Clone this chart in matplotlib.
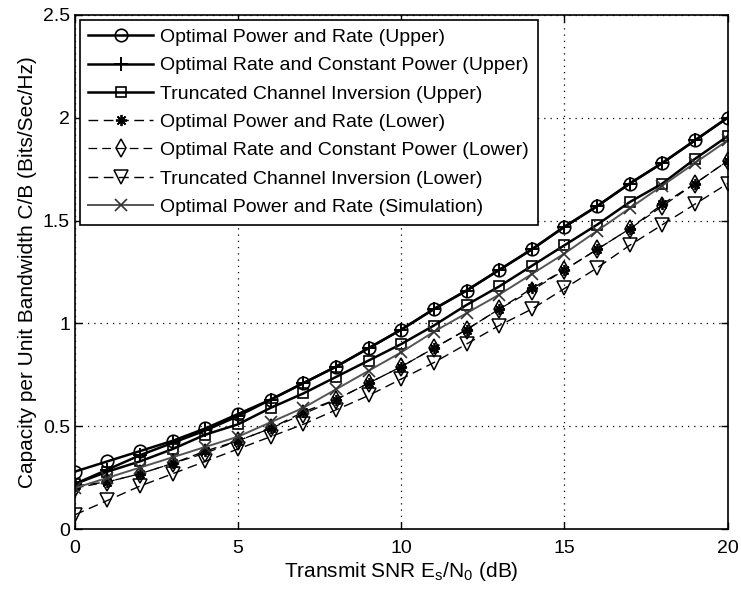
import numpy as np
import matplotlib
matplotlib.use("Agg")
from matplotlib import pyplot as plt

plt.rcParams['font.family'] = ['Liberation Sans', 'DejaVu Sans']

snr_db = list(range(0, 21))

opt_power_rate_upper = [0.28, 0.33, 0.38, 0.43, 0.49, 0.56, 0.63, 0.71, 0.79, 0.88, 0.97,
                        1.07, 1.16, 1.26, 1.36, 1.47, 1.57, 1.68, 1.78, 1.89, 2.00]
opt_rate_const_upper = [0.22, 0.29, 0.36, 0.42, 0.48, 0.55, 0.63, 0.71, 0.79, 0.88, 0.97,
                        1.07, 1.16, 1.26, 1.36, 1.47, 1.57, 1.68, 1.78, 1.89, 2.00]
trunc_inv_upper = [0.22, 0.28, 0.33, 0.39, 0.46, 0.51, 0.59, 0.66, 0.74, 0.82, 0.90,
                   0.99, 1.09, 1.18, 1.28, 1.38, 1.48, 1.59, 1.68, 1.80, 1.91]
opt_power_rate_lower = [0.21, 0.23, 0.27, 0.32, 0.38, 0.43, 0.49, 0.57, 0.63, 0.71, 0.79,
                        0.88, 0.97, 1.07, 1.17, 1.26, 1.36, 1.46, 1.58, 1.68, 1.79]
opt_rate_const_lower = [0.20, 0.23, 0.27, 0.32, 0.37, 0.43, 0.49, 0.56, 0.63, 0.71, 0.79,
                        0.88, 0.97, 1.07, 1.16, 1.26, 1.36, 1.46, 1.57, 1.68, 1.79]
trunc_inv_lower = [0.07, 0.14, 0.21, 0.27, 0.33, 0.39, 0.45, 0.51, 0.58, 0.65, 0.73,
                   0.81, 0.90, 0.99, 1.07, 1.17, 1.27, 1.38, 1.48, 1.58, 1.68]
opt_power_rate_sim = [0.20, 0.25, 0.30, 0.35, 0.40, 0.45, 0.52, 0.59, 0.68, 0.77, 0.86,
                      0.96, 1.05, 1.14, 1.24, 1.34, 1.45, 1.56, 1.67, 1.78, 1.89]

labels = ["Optimal Power and Rate (Upper)",
          "Optimal Rate and Constant Power (Upper)",
          "Truncated Channel Inversion (Upper)",
          "Optimal Power and Rate (Lower)",
          "Optimal Rate and Constant Power (Lower)",
          "Truncated Channel Inversion (Lower)",
          "Optimal Power and Rate (Simulation)"]

asterisk = (8, 2, 0)

fig = plt.figure(figsize=(7.41, 5.92), dpi=100)
ax = fig.add_axes([0.101, 0.106, 0.881, 0.869])

ax.plot(snr_db, opt_power_rate_upper, '-', color='k', lw=1.8, marker='o', ms=9,
        mfc='none', mec='k', mew=1.2, label=labels[0])
ax.plot(snr_db, opt_rate_const_upper, '-', color='k', lw=1.8, marker='+', ms=10,
        mec='k', mew=1.4, label=labels[1])
ax.plot(snr_db, trunc_inv_upper, '-', color='k', lw=1.8, marker='s', ms=7.5,
        mfc='none', mec='k', mew=1.2, label=labels[2])
ax.plot(snr_db, opt_power_rate_lower, '--', color='k', lw=1.0, dashes=(7, 4),
        marker=asterisk, ms=8, mec='k', mew=1.3, label=labels[3])
ax.plot(snr_db, opt_rate_const_lower, '--', color='k', lw=0.9, dashes=(7, 4),
        marker='d', ms=9, mfc='none', mec='k', mew=1.1, label=labels[4])
ax.plot(snr_db, trunc_inv_lower, '--', color='k', lw=1.0, dashes=(7, 4),
        marker='v', ms=10, mfc='none', mec='k', mew=1.1, label=labels[5])
ax.plot(snr_db, opt_power_rate_sim, '-', color='#555555', lw=1.4, marker='x', ms=8,
        mec='#333333', mew=1.2, label=labels[6])

ax.set_xlim(0, 20)
ax.set_ylim(0, 2.5)
ax.set_xticks([0, 5, 10, 15, 20])
ax.set_yticks([0, 0.5, 1, 1.5, 2, 2.5])
ax.set_yticklabels(['0', '0.5', '1', '1.5', '2', '2.5'])
ax.grid(True, linestyle=(0, (1, 4)), color='k', lw=0.9)
ax.tick_params(direction='in', top=True, right=True, labelsize=14, length=5, width=1)
ax.tick_params(axis='x', pad=8)
for s in ax.spines.values():
    s.set_linewidth(1.2)

ax.set_xlabel(r'Transmit SNR E$_\mathregular{s}$/N$_\mathregular{0}$ (dB)', fontsize=15, labelpad=2)
ax.set_ylabel('Capacity per Unit Bandwidth C/B (Bits/Sec/Hz)', fontsize=15, labelpad=4)

leg = ax.legend(loc='upper left', fontsize=14, handlelength=3.3, handletextpad=0.4,
                labelspacing=0.55, borderaxespad=0.25, borderpad=0.45,
                fancybox=False, framealpha=1, edgecolor='k')
leg.get_frame().set_linewidth(1.2)

fig.savefig('out.png', dpi=100)
